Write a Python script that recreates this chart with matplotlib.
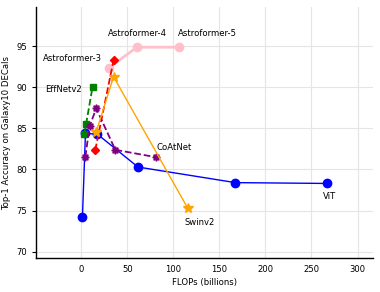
import matplotlib
matplotlib.use("Agg")
import matplotlib.pyplot as plt

vit_x = [1.3, 4.6, 17.6, 61.6, 167.4, 267.0]
vit_y = [74.2, 84.4, 84.3, 80.3, 78.4, 78.3]

astro_x = [30.1, 60.5, 106.5]
astro_y = [92.4, 94.9, 94.9]

astro3_x = [15.2, 35.1]
astro3_y = [82.35, 93.3]

eff_x = [3.3, 5.4, 12.3]
eff_y = [84.35, 85.6, 90.07]

coat_x = [4.5, 9.0, 16.3, 37.0, 81.2]
coat_y = [81.55, 85.25, 87.45, 82.4, 81.5]

swin_x = [16.3, 35.1, 115.6]
swin_y = [84.6, 91.3, 75.3]

labels = [
    ("Astroformer-3", -10, 93.5),
    ("Astroformer-4", 61, 96.6),
    ("Astroformer-5", 137, 96.6),
    ("EffNetv2", -19, 89.7),
    ("CoAtNet", 101, 82.7),
    ("Swinv2", 129, 73.6),
    ("ViT", 270, 76.7),
]

FS = 6.1

fig = plt.figure(figsize=(3.8, 2.92), dpi=100)
ax = fig.add_axes([0.095, 0.116, 0.887, 0.86])

ax.plot(vit_x, vit_y, color="blue", marker="o", markersize=6, linewidth=1.0, zorder=3)
ax.plot(astro_x, astro_y, color="pink", marker="o", markersize=6, linewidth=2.0, zorder=3)
ax.plot(astro3_x, astro3_y, color="red", marker="D", markersize=4.5, linewidth=1.3,
        linestyle="--", zorder=4)
ax.plot(eff_x, eff_y, color="green", marker="s", markersize=4.5, linewidth=1.3,
        linestyle="--", zorder=4)
ax.plot(coat_x, coat_y, color="purple", marker=(8, 1, 0), markersize=5.5, linewidth=1.3,
        linestyle="--", zorder=4)
ax.plot(swin_x, swin_y, color="orange", marker="*", markersize=7, linewidth=1.0, zorder=5)

for t, x, y in labels:
    ax.text(x, y, t, fontsize=FS, ha="center", va="center", color="black")

ax.set_xlim(-49, 317)
ax.set_ylim(69.2, 99.8)
ax.set_xticks([0, 50, 100, 150, 200, 250, 300])
ax.set_yticks([70, 75, 80, 85, 90, 95])
ax.tick_params(axis="both", labelsize=FS)
ax.tick_params(axis="x", length=0, pad=5)
ax.tick_params(axis="y", length=3, width=0.8)
ax.grid(True, color="#e5e5e5", linewidth=0.8)
ax.set_axisbelow(True)
for s in ["top", "right"]:
    ax.spines[s].set_visible(False)
for s in ["left", "bottom"]:
    ax.spines[s].set_linewidth(1.0)

ax.set_xlabel("FLOPs (billions)", fontsize=FS, labelpad=3)
ax.set_ylabel("Top-1 Accuracy on Galaxy10 DECals", fontsize=FS, labelpad=4)

fig.savefig("out.png", dpi=100)
